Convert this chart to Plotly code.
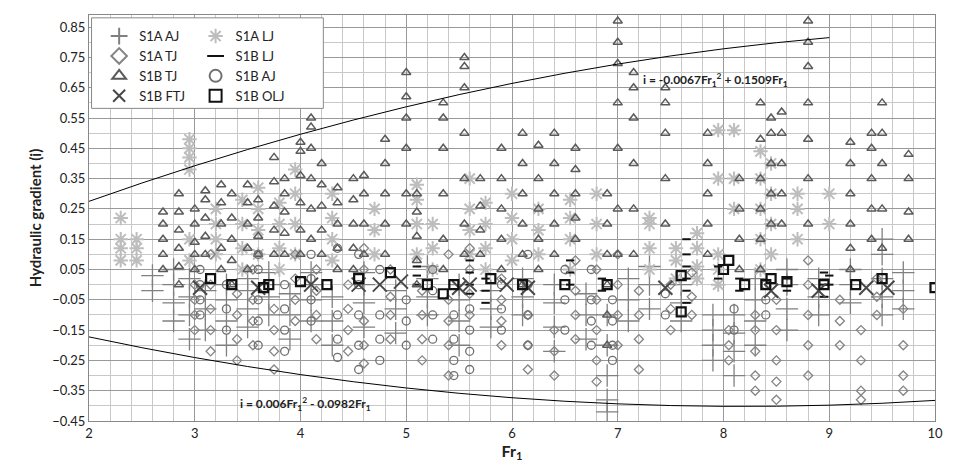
import plotly.graph_objects as go

# ---- data (each column: one Fr1 value, several gradients) ----
tj1b_x = [2.7, 2.85, 3.0, 3.1, 3.25, 3.35, 3.5, 3.6, 3.75, 3.85, 4.0, 4.1, 4.2, 4.35, 4.5, 4.6,
          4.8, 5.0, 5.1, 5.35, 5.55, 5.7, 5.9, 6.1, 6.25, 6.4, 6.6, 6.9, 7.0, 7.15, 7.45, 7.85,
          8.15, 8.35, 8.45, 8.55, 8.8, 9.2, 9.4, 9.5, 9.75]
tj1b_y = [[0.05, 0.1, 0.15, 0.2, 0.24], [0.0, 0.06, 0.12, 0.18, 0.24, 0.3], [0.05, 0.1, 0.14, 0.2, 0.25],
          [0.1, 0.16, 0.22, 0.28, 0.31], [0.05, 0.12, 0.2, 0.27, 0.33], [0.0, 0.08, 0.15, 0.22, 0.3],
          [0.05, 0.12, 0.2, 0.27, 0.33], [0.1, 0.16, 0.22, 0.28], [0.1, 0.18, 0.26, 0.34, 0.42],
          [0.1, 0.17, 0.24, 0.3, 0.35], [0.1, 0.18, 0.27, 0.36, 0.44, 0.47], [0.15, 0.25, 0.35, 0.45, 0.52, 0.55],
          [0.1, 0.18, 0.26, 0.33, 0.4], [0.05, 0.12, 0.2, 0.27, 0.32], [0.05, 0.12, 0.2, 0.28, 0.35],
          [0.1, 0.2, 0.3, 0.36], [0.1, 0.2, 0.3, 0.4, 0.48], [0.2, 0.3, 0.45, 0.55, 0.62, 0.7],
          [0.0, 0.08, 0.16, 0.24, 0.3], [0.05, 0.15, 0.3, 0.45, 0.55, 0.6], [0.1, 0.2, 0.35, 0.5, 0.65, 0.72, 0.75],
          [0.1, 0.18, 0.26, 0.35], [0.05, 0.15, 0.25, 0.35, 0.45], [0.0, 0.1, 0.2, 0.3, 0.4, 0.5],
          [0.05, 0.15, 0.25, 0.35, 0.46], [0.1, 0.2, 0.3, 0.4, 0.5], [0.15, 0.22, 0.3, 0.38, 0.45],
          [-0.2, -0.1, 0.0, 0.1, 0.2, 0.3], [0.1, 0.25, 0.45, 0.6, 0.73, 0.8, 0.87], [0.1, 0.25, 0.4, 0.55, 0.65, 0.7],
          [0.2, 0.35, 0.5, 0.6, 0.65], [0.1, 0.2, 0.3, 0.4, 0.5], [0.05, 0.15, 0.25, 0.35],
          [0.05, 0.15, 0.25, 0.35, 0.48, 0.6], [0.2, 0.3, 0.4, 0.5, 0.55], [0.2, 0.3, 0.4, 0.5, 0.57],
          [0.2, 0.35, 0.48, 0.6, 0.72, 0.8, 0.87], [0.05, 0.12, 0.2, 0.3, 0.4, 0.47], [0.15, 0.25, 0.35, 0.45, 0.5],
          [0.12, 0.25, 0.4, 0.5, 0.6], [0.15, 0.24, 0.35, 0.43]]

aj1a_x = [2.6, 2.8, 2.95, 3.1, 3.3, 3.5, 3.7, 3.9, 4.1, 4.3, 4.6, 4.9, 5.2, 5.5, 5.8, 6.1, 6.4, 6.7,
          6.9, 7.1, 7.3, 7.6, 7.9, 8.1, 8.3, 8.6, 8.9, 9.2, 9.5, 9.7]
aj1a_y = [[-0.02, 0.03], [-0.12, -0.06, 0.0, 0.05], [-0.18, -0.1, -0.04, 0.02], [-0.15, -0.08, -0.02],
          [-0.2, -0.12, -0.05, 0.0], [-0.14, -0.08, -0.02, 0.02], [-0.1, -0.04, 0.0, 0.04], [-0.18, -0.1, -0.03],
          [-0.12, -0.05, 0.0, 0.04], [-0.2, -0.12, -0.04], [-0.14, -0.06, 0.0, 0.04], [-0.16, -0.08, -0.02],
          [-0.1, -0.04, 0.02, 0.06], [-0.2, -0.12, -0.05, 0.0], [-0.14, -0.08, -0.02], [-0.1, -0.04, 0.02],
          [-0.22, -0.14, -0.06, 0.0], [-0.18, -0.1, -0.03], [-0.42, -0.38, -0.3, -0.2, -0.1], [-0.12, -0.05, 0.02],
          [-0.08, 0.0, 0.06], [-0.12, -0.06, 0.0], [-0.25, -0.2, -0.15, -0.1], [-0.3, -0.22, -0.16, -0.1],
          [-0.2, -0.12, -0.05, 0.02], [-0.15, -0.08, 0.0, 0.05], [-0.1, -0.04, 0.02], [-0.06, 0.0, 0.05],
          [-0.1, -0.04, 0.02, 0.1, 0.15], [-0.08, -0.02, 0.04]]

tj1a_x = [3.0, 3.15, 3.4, 3.55, 3.75, 3.95, 4.15, 4.45, 4.6, 4.85, 5.15, 5.4, 5.6, 5.9, 6.15, 6.4,
          6.6, 6.8, 7.0, 7.2, 7.5, 7.7, 8.05, 8.3, 8.5, 8.8, 9.1, 9.3, 9.45, 9.7]
tj1a_y = [[-0.15, -0.1, -0.05, 0.0], [-0.22, -0.15, -0.08, 0.0, 0.1], [-0.25, -0.18, -0.1, -0.03],
          [-0.2, -0.12, -0.05, 0.05], [-0.28, -0.22, -0.15, -0.08], [-0.12, -0.05, 0.02, 0.1],
          [-0.18, -0.1, -0.02, 0.05], [-0.22, -0.15, -0.08, 0.0], [-0.26, -0.2, -0.12, 0.05, 0.12],
          [-0.18, -0.1, -0.04, 0.05], [-0.25, -0.18, -0.1, -0.02], [-0.3, -0.2, -0.12, -0.05, 0.1],
          [-0.1, -0.03, 0.05, 0.12], [-0.2, -0.12, -0.05, 0.02], [-0.28, -0.2, -0.1, 0.0], [-0.3, -0.22, -0.15],
          [-0.18, -0.1, -0.02, 0.08], [-0.32, -0.25, -0.15, -0.05, 0.05], [-0.2, -0.1, 0.0, 0.1],
          [-0.28, -0.18, -0.1, -0.02], [-0.15, -0.08, 0.0], [-0.1, -0.04, 0.04], [-0.25, -0.2, -0.15],
          [-0.35, -0.3, -0.22, -0.15, -0.1], [-0.38, -0.32, -0.25, -0.15, -0.05], [-0.3, -0.2, -0.1, 0.0, 0.08],
          [-0.2, -0.12, -0.05], [-0.38, -0.35, -0.25, -0.15], [-0.1, -0.04, 0.02], [-0.35, -0.3, -0.2, -0.08]]

lj1a_x = [2.3, 2.45, 2.95, 3.2, 3.45, 3.6, 3.8, 3.95, 4.3, 4.7, 5.1, 5.25, 5.6, 5.75, 6.0, 6.25, 6.55,
          6.8, 7.3, 7.55, 7.75, 7.95, 8.1, 8.35, 8.45, 8.7, 9.0]
lj1a_y = [[0.08, 0.12, 0.15, 0.22], [0.08, 0.12, 0.15], [0.38, 0.42, 0.45, 0.48, 0.08, 0.15],
          [0.1, 0.15, 0.2, 0.25], [0.05, 0.12, 0.2, 0.28], [0.1, 0.18, 0.25, 0.32], [0.05, 0.12, 0.2, 0.27],
          [0.1, 0.2, 0.3, 0.38], [0.08, 0.15, 0.22, 0.3], [0.1, 0.18, 0.25], [0.1, 0.2, 0.28, 0.33],
          [0.05, 0.12, 0.2], [0.1, 0.18, 0.25, 0.35], [0.05, 0.12, 0.2, 0.27], [0.08, 0.15, 0.22, 0.3],
          [0.1, 0.18, 0.25], [0.05, 0.15, 0.22, 0.28], [0.1, 0.2, 0.3], [0.05, 0.12, 0.2, 0.22],
          [0.02, 0.08, 0.12], [0.02, 0.06, 0.12, 0.17], [0.35, 0.51, 0.0, 0.05, 0.1], [0.25, 0.35, 0.51],
          [0.05, 0.15, 0.25, 0.35, 0.44], [0.1, 0.2, 0.3, 0.4], [0.15, 0.25, 0.3], [0.3, 0.2]]

aj1b_x = [3.05, 3.3, 3.6, 3.85, 4.1, 4.35, 4.55, 4.75, 5.0, 5.25, 5.45, 5.6, 5.9, 6.15, 6.5,
          6.75, 6.95, 7.45, 8.1, 8.4]
aj1b_y = [[-0.1, -0.05, 0.0, 0.05], [-0.15, -0.08, 0.0], [-0.2, -0.12, -0.05, 0.05, 0.1],
          [-0.22, -0.15, -0.08, 0.0], [-0.12, -0.05, 0.02, 0.1], [-0.24, -0.18, -0.1, 0.12],
          [-0.28, -0.2, -0.1, 0.0, 0.1], [-0.25, -0.18, -0.1, 0.05], [-0.2, -0.12, -0.05],
          [-0.18, -0.1, -0.02, 0.05], [-0.3, -0.25, -0.18, -0.1], [-0.28, -0.22, -0.15, -0.08],
          [-0.15, -0.08, 0.0], [-0.2, -0.1, 0.0, 0.1], [-0.15, -0.05, 0.05], [-0.2, -0.12, -0.05, 0.05],
          [-0.25, -0.2, -0.12, -0.05], [-0.1, -0.03], [-0.15, -0.08], [-0.1, -0.05, 0.0]]

ftj_x = [3.05, 3.6, 4.1, 4.55, 4.75, 4.95, 5.5, 5.6, 5.95, 6.15, 7.45, 8.45, 8.9, 9.35, 9.55]
ftj_y = [-0.01, -0.01, 0.0, 0.0, 0.0, 0.01, -0.01, 0.0, 0.0, -0.01, -0.01, -0.02, -0.02, -0.01, -0.01]

lj1b_x = [5.1, 5.6, 5.75, 6.55, 6.85, 7.65, 7.95, 8.15, 8.6, 8.95, 9.0]
lj1b_y = [[0.0, 0.03, 0.06], [-0.03, 0.0, 0.04, 0.08], [-0.06, -0.02, 0.02], [0.0, 0.04, 0.08],
          [-0.02, 0.02], [-0.06, -0.02, 0.02, 0.06, 0.1, 0.15], [0.02, 0.06], [-0.02, 0.02],
          [-0.02, 0.02], [-0.04, 0.0, 0.04], [0.0, 0.03]]

olj_x = [3.15, 3.35, 3.65, 3.7, 4.0, 4.25, 4.55, 4.85, 5.2, 5.35, 5.45, 5.8, 6.1, 6.5, 6.9, 7.6, 7.6,
         8.0, 8.05, 8.2, 8.4, 8.45, 8.6, 8.95, 9.25, 9.5, 10.0]
olj_y = [0.02, 0.0, -0.01, 0.0, 0.01, 0.0, 0.02, 0.04, 0.0, -0.03, 0.0, 0.02, 0.0, 0.0, 0.0, -0.09, 0.03,
         0.05, 0.08, 0.0, 0.0, 0.02, 0.01, 0.0, 0.0, 0.02, -0.01]

curve_x = [2, 2.5, 3, 3.5, 4, 4.5, 5, 5.5, 6, 6.5, 7, 7.5, 8, 8.5, 9, 9.5, 10]
up_a, up_b = -0.0067, 0.1509
lo_a, lo_b = 0.006, -0.0982
up_curve_x = [v for v in curve_x if v <= 9]


def flat(xs, ys):
    ox, oy = [], []
    for x, col in zip(xs, ys):
        for y in col:
            ox.append(x); oy.append(y)
    return ox, oy


fig = go.Figure()


def add(name, x, y, symbol, color, size, legend, width=1.3):
    fig.add_trace(go.Scatter(x=x, y=y, mode="markers", name=name, legend=legend,
                             marker=dict(symbol=symbol, size=size, color=color,
                                         line=dict(color=color, width=width))))


x, y = flat(aj1a_x, aj1a_y); add("S1A AJ", x, y, "cross-thin-open", "#808080", 16, "legend")
x, y = flat(lj1a_x, lj1a_y); add("S1A LJ", x, y, "asterisk-open", "#bdbdbd", 12, "legend2", 2)
x, y = flat(tj1a_x, tj1a_y); add("S1A TJ", x, y, "diamond-open", "#858585", 7, "legend")
x, y = flat(lj1b_x, lj1b_y); add("S1B LJ", x, y, "line-ew-open", "#111111", 6, "legend2", 2)
x, y = flat(tj1b_x, tj1b_y); add("S1B TJ", x, y, "triangle-up-open", "#5a5a5a", 8, "legend", 1.5)
x, y = flat(aj1b_x, aj1b_y); add("S1B AJ", x, y, "circle-open", "#707070", 8, "legend2")
add("S1B FTJ", ftj_x, ftj_y, "x-thin-open", "#484848", 14, "legend", 2)
add("S1B OLJ", olj_x, olj_y, "square-open", "#111111", 9, "legend2", 2.2)

fig.add_trace(go.Scatter(x=up_curve_x, y=[up_a * v * v + up_b * v for v in up_curve_x], mode="lines",
                         line=dict(color="black", width=1), showlegend=False, hoverinfo="skip"))
fig.add_trace(go.Scatter(x=curve_x, y=[lo_a * v * v + lo_b * v for v in curve_x], mode="lines",
                         line=dict(color="black", width=1), showlegend=False, hoverinfo="skip"))

fnt = dict(family="Lato, Open Sans, sans-serif", size=13, color="#222")
fig.update_layout(
    width=965, height=472, margin=dict(l=81, r=38, t=7, b=59),
    paper_bgcolor="white", plot_bgcolor="white", font=fnt,
    xaxis=dict(range=[2, 10], dtick=1, tick0=2, showline=True, linecolor="#888", mirror=True,
               gridcolor="#999", minor=dict(dtick=0.2, showgrid=True, gridcolor="#c8c8c8"),
               zeroline=False, ticks="", automargin=False,
               title=dict(text="<b>Fr<sub>1</sub></b>", font=dict(size=16), standoff=2)),
    yaxis=dict(range=[-0.45, 0.89], dtick=0.1, tick0=0.05, tickformat=".2f", showline=True,
               linecolor="#888", mirror=True, gridcolor="#999",
               minor=dict(dtick=0.05, tick0=0.0, showgrid=True, gridcolor="#c8c8c8"),
               zeroline=False, ticks="", automargin=False,
               title=dict(text="<b>Hydraulic gradient (i)</b>", font=dict(size=15), standoff=6)),
    legend=dict(x=0.012, y=0.985, xanchor="left", yanchor="top", bgcolor="rgba(0,0,0,0)",
                font=dict(size=13), tracegroupgap=0, itemsizing="constant"),
    legend2=dict(x=0.126, y=0.985, xanchor="left", yanchor="top", bgcolor="rgba(0,0,0,0)",
                 font=dict(size=13), tracegroupgap=0, itemsizing="constant"),
    shapes=[dict(type="rect", xref="paper", yref="paper", x0=0.003, x1=0.277, y0=0.77, y1=0.993,
                 fillcolor="white", line=dict(color="#888", width=1), layer="above")],
    annotations=[dict(x=7.92, y=0.675, text="<b>i = -0.0067Fr<sub>1</sub><sup>2</sup> + 0.1509Fr<sub>1</sub></b>",
                      showarrow=False, font=dict(size=12)),
                 dict(x=4.05, y=-0.395, text="<b>i = 0.006Fr<sub>1</sub><sup>2</sup> - 0.0982Fr<sub>1</sub></b>",
                      showarrow=False, font=dict(size=12))],
)
fig.write_html("out.html")
